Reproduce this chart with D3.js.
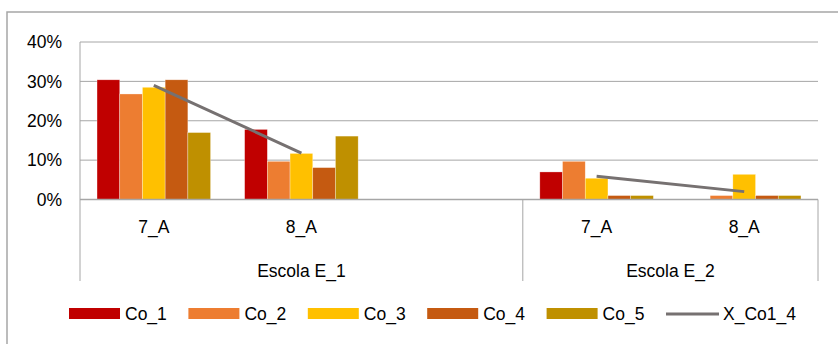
<!DOCTYPE html>
<html>
<head>
<meta charset="utf-8">
<script src="https://cdn.jsdelivr.net/npm/d3@7"></script>
<style>
  body { margin: 0; background: #fff; }
  svg { display: block; font-family: "Liberation Sans", Arial, sans-serif; }
</style>
</head>
<body>
<div id="chart"></div>
<script>
// categories (two levels); the empty slot keeps the gap after Escola E_1
const groups = ["Escola E_1", "Escola E_2"];
const categoryGroup = ["Escola E_1", "Escola E_1", "Escola E_1", "Escola E_2", "Escola E_2"];
const categoryLabels = ["7_A", "8_A", "", "7_A", "8_A"];

const seriesNames = ["Co_1", "Co_2", "Co_3", "Co_4", "Co_5"];
const co1 = [30.4, 17.8, null, 7.0, 0];
const co2 = [26.8, 9.7, null, 9.7, 1.0];
const co3 = [28.5, 11.7, null, 5.4, 6.4];
const co4 = [30.4, 8.1, null, 1.0, 1.0];
const co5 = [17.0, 16.1, null, 1.0, 1.0];
const xCo1_4 = [29.0, 11.8, null, 5.9, 2.0];

const yTicks = [0, 10, 20, 30, 40];
const colors = ["#C00000", "#ED7D31", "#FFC000", "#C55A11", "#BF9000"];
const lineColor = "#767171";

const width = 838, height = 344;
const margin = { top: 42, left: 80, right: 20 };
const plotBottom = 199.5;
const axisBottom = 281;
const fontSize = "17.5px";

const svg = d3.select("#chart").append("svg")
    .attr("width", width)
    .attr("height", height);

// outer chart border (runs off the right and bottom edges)
svg.append("rect")
    .attr("x", 7).attr("y", 12)
    .attr("width", width).attr("height", height)
    .attr("fill", "none")
    .attr("stroke", "#a6a6a6")
    .attr("stroke-width", 1.5);

const keys = d3.range(categoryLabels.length);
const x = d3.scaleBand()
    .domain(keys)
    .range([margin.left, width - margin.right]);

const y = d3.scaleLinear()
    .domain([0, 40])
    .range([plotBottom, margin.top]);

const bw = x.bandwidth();
const gap = bw * 1.5 / 6.5;
const xInner = d3.scaleBand()
    .domain(seriesNames)
    .range([gap / 2, bw - gap / 2]);

// gridlines
svg.append("g")
    .selectAll("line")
    .data(yTicks.filter(d => d > 0))
    .join("line")
    .attr("x1", margin.left).attr("x2", width - margin.right)
    .attr("y1", d => y(d)).attr("y2", d => y(d))
    .attr("stroke", "#a6a6a6")
    .attr("stroke-width", 1);

// y tick labels
svg.append("g")
    .selectAll("text")
    .data(yTicks)
    .join("text")
    .attr("x", 62)
    .attr("y", d => y(d))
    .attr("dy", "0.35em")
    .attr("text-anchor", "end")
    .style("font-size", fontSize)
    .attr("fill", "#000")
    .text(d => d + "%");

// bars
const allSeries = [co1, co2, co3, co4, co5];
seriesNames.forEach((name, s) => {
    svg.append("g")
        .selectAll("rect")
        .data(allSeries[s].map((v, i) => ({ i, v })).filter(d => d.v))
        .join("rect")
        .attr("x", d => x(d.i) + xInner(name))
        .attr("width", xInner.bandwidth())
        .attr("y", d => y(d.v))
        .attr("height", d => y(0) - y(d.v))
        .attr("fill", colors[s])
        .attr("stroke", "#fff")
        .attr("stroke-opacity", 0.5)
        .attr("stroke-width", 0.6);
});

// trend line, broken across the empty slot
const line = d3.line()
    .defined(d => d != null)
    .x((d, i) => x(i) + bw / 2)
    .y(d => y(d));

svg.append("path")
    .datum(xCo1_4)
    .attr("d", line)
    .attr("fill", "none")
    .attr("stroke", lineColor)
    .attr("stroke-width", 3);

// axes
svg.append("line")
    .attr("x1", margin.left).attr("x2", width - margin.right)
    .attr("y1", plotBottom).attr("y2", plotBottom)
    .attr("stroke", "#a6a6a6").attr("stroke-width", 1.5);

svg.append("line")
    .attr("x1", margin.left).attr("x2", margin.left)
    .attr("y1", margin.top).attr("y2", axisBottom)
    .attr("stroke", "#a6a6a6").attr("stroke-width", 1);

// group separators below the axis
const groupEdges = [];
groups.forEach(g => {
    const idx = keys.filter(i => categoryGroup[i] === g);
    groupEdges.push({ g, x0: x(idx[0]), x1: x(idx[idx.length - 1]) + bw });
});

svg.append("g")
    .selectAll("line")
    .data(groupEdges)
    .join("line")
    .attr("x1", d => d.x1).attr("x2", d => d.x1)
    .attr("y1", plotBottom).attr("y2", axisBottom)
    .attr("stroke", "#a6a6a6").attr("stroke-width", 1);

// category labels
svg.append("g")
    .selectAll("text")
    .data(keys)
    .join("text")
    .attr("x", d => x(d) + bw / 2)
    .attr("y", 233)
    .attr("text-anchor", "middle")
    .style("font-size", fontSize)
    .text(d => categoryLabels[d]);

svg.append("g")
    .selectAll("text")
    .data(groupEdges)
    .join("text")
    .attr("x", d => (d.x0 + d.x1) / 2)
    .attr("y", 277)
    .attr("text-anchor", "middle")
    .style("font-size", fontSize)
    .text(d => d.g);

// legend
const legendNames = seriesNames.concat(["X_Co1_4"]);
const legend = svg.append("g")
    .selectAll("g")
    .data(legendNames)
    .join("g")
    .attr("transform", (d, i) => `translate(${69 + i * 119.4},314)`);

legend.filter((d, i) => i < 5)
    .append("rect")
    .attr("x", 0).attr("y", -6)
    .attr("width", 51).attr("height", 11)
    .attr("fill", (d, i) => colors[i]);

legend.filter((d, i) => i === 5)
    .append("line")
    .attr("x1", 0).attr("x2", 53)
    .attr("y1", 0).attr("y2", 0)
    .attr("stroke", lineColor)
    .attr("stroke-width", 3);

legend.append("text")
    .attr("x", (d, i) => i < 5 ? 56 : 57)
    .attr("y", 0)
    .attr("dy", "0.35em")
    .style("font-size", fontSize)
    .text(d => d);
</script>
</body>
</html>
